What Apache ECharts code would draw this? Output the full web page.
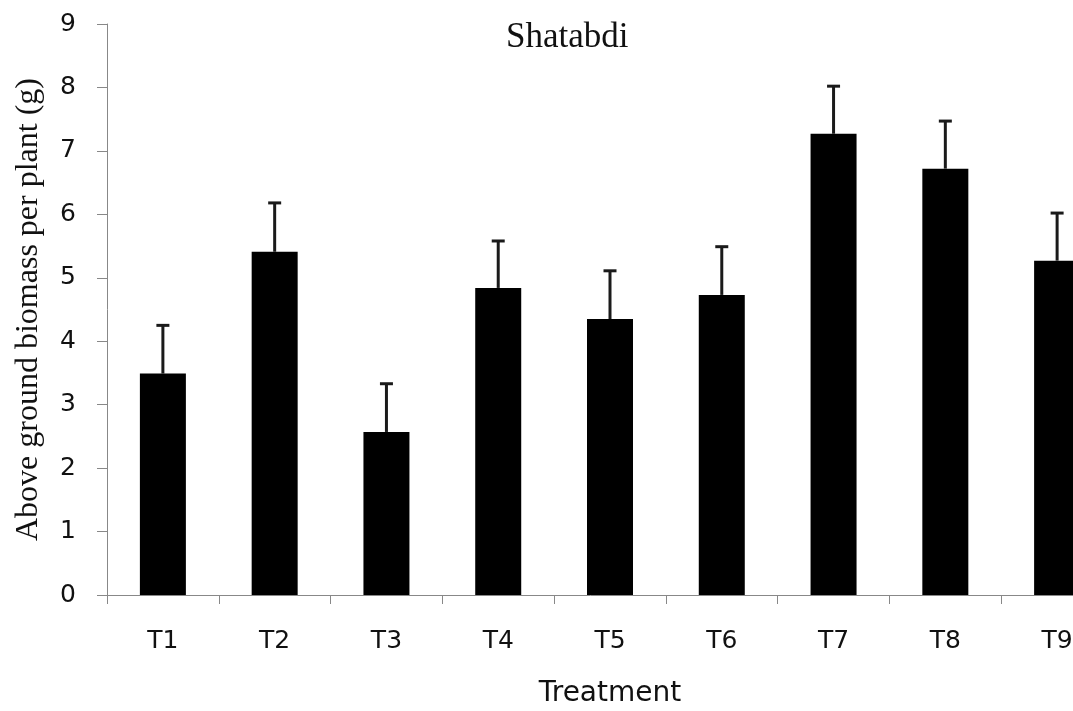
<!DOCTYPE html>
<html>
<head>
<meta charset="utf-8">
<script src="https://cdn.jsdelivr.net/npm/echarts@6/dist/echarts.min.js"></script>
<style>
html,body{margin:0;padding:0;background:#fff;}
#chart{width:1073px;height:711px;}
</style>
</head>
<body>
<div id="chart"></div>
<script>
var categories = ['T1','T2','T3','T4','T5','T6','T7','T8','T9'];
var means = [3.49, 5.41, 2.57, 4.84, 4.35, 4.73, 7.27, 6.72, 5.27];
var errors = [0.76, 0.77, 0.76, 0.74, 0.76, 0.76, 0.75, 0.75, 0.75];
var yTicks = [0,1,2,3,4,5,6,7,8,9];

var chart = echarts.init(document.getElementById('chart'), null, {renderer:'canvas'});
var errData = means.map(function(m,i){ return [i, m, m + errors[i]]; });

chart.setOption({
  animation: false,
  backgroundColor: '#fff',
  title: {
    text: 'Shatabdi',
    left: 506, top: 20, padding: 0,
    textStyle: {fontFamily: 'Liberation Serif', fontSize: 35, fontWeight: 'normal', color: '#111'}
  },
  grid: {left: 107, top: 24, width: 1006, height: 571, containLabel: false, outerBoundsMode: 'none'},
  xAxis: {
    type: 'category',
    data: categories,
    name: 'Treatment',
    nameLocation: 'middle',
    nameGap: 85,
    nameTextStyle: {fontFamily: 'DejaVu Sans', fontSize: 28, color: '#111'},
    axisLine: {lineStyle: {color: '#888', width: 1}},
    axisTick: {show: true, length: 9, lineStyle: {color: '#888'}},
    axisLabel: {fontFamily: 'DejaVu Sans', fontSize: 25, color: '#111', margin: 34, interval: 0}
  },
  yAxis: {
    type: 'value',
    min: yTicks[0], max: yTicks[yTicks.length-1], interval: 1,
    name: 'Above ground biomass per plant (g)',
    nameLocation: 'middle',
    nameGap: 62,
    nameTextStyle: {fontFamily: 'Liberation Serif', fontSize: 32, color: '#111'},
    axisLine: {show: true, lineStyle: {color: '#888', width: 1}},
    axisTick: {show: true, length: 10, lineStyle: {color: '#888'}},
    axisLabel: {fontFamily: 'DejaVu Sans', fontSize: 25, color: '#111', margin: 31},
    splitLine: {show: false}
  },
  series: [
    {
      type: 'bar',
      data: means,
      barWidth: 46,
      itemStyle: {color: '#000'},
      z: 2
    },
    {
      type: 'custom',
      data: errData,
      z: 3,
      renderItem: function(params, api){
        var x = api.value(0);
        var lo = api.coord([x, api.value(1)]);
        var hi = api.coord([x, api.value(2)]);
        var half = 6.5;
        return {
          type: 'group',
          children: [
            {type: 'line', shape: {x1: lo[0], y1: lo[1], x2: hi[0], y2: hi[1]}, style: {stroke: '#1a1a1a', lineWidth: 3}},
            {type: 'line', shape: {x1: hi[0]-half, y1: hi[1], x2: hi[0]+half, y2: hi[1]}, style: {stroke: '#1a1a1a', lineWidth: 3}}
          ]
        };
      }
    }
  ]
});
</script>
</body>
</html>
